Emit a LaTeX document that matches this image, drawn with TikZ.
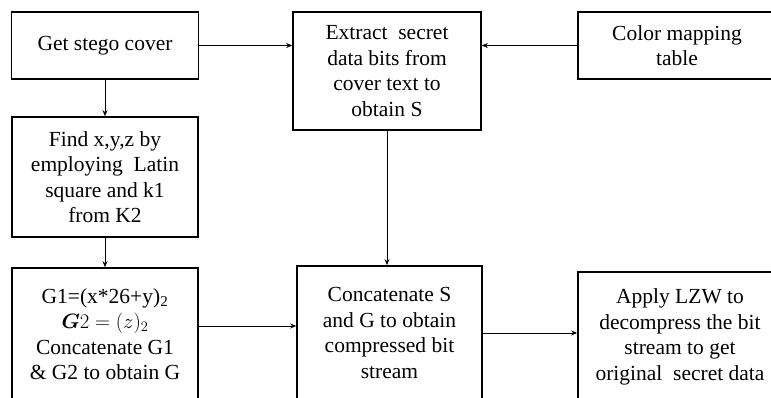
\documentclass[tikz,border=0pt]{standalone}
\usepackage{amsmath}
\usepackage{fontspec}
\setmainfont{Liberation Serif}
\usetikzlibrary{arrows.meta}
\begin{document}
\begin{tikzpicture}[x=1pt,y=-1pt,font=\fontsize{21.5}{25.5}\selectfont,align=center,
  blk/.style={draw,line width=1.7pt,inner sep=0pt},
  arr/.style={-{Stealth[length=6pt,width=5pt]},line width=0.7pt}]
  \clip (0,0) rectangle (771,398);
  % left column
  \node[blk,minimum width=187,minimum height=67] (stego) at (105,45.5){Get stego cover};
  \node[blk,minimum width=186,minimum height=120] (findxyz) at (105,177){Find x,y,z by\\employing\ \ Latin\\square and k1\\from K2};
  \node[blk,minimum width=186,minimum height=132] (gvalue) at (105,334){G1=(x*26+y)\textsubscript{2}\\$\boldsymbol{G}2=(z)_{2}$\\Concatenate G1\\\& G2 to obtain G};
  % middle column
  \node[blk,minimum width=188,minimum height=118] (extract) at (387,71){Extract\ \ secret\\data bits from\\cover text to\\obtain S};
  \node[blk,minimum width=185,minimum height=134] (concat) at (389.5,333){Concatenate S\\and G to obtain\\compressed bit\\stream};
  % right column
  \node[blk,minimum width=198,minimum height=67] (colortab) at (677,45.5){Color mapping\\table};
  \node[blk,minimum width=204,minimum height=130] (lzw) at (680,337){Apply LZW to\\decompress the bit\\stream to get\\original\ \ secret data};
  % connectors
  \draw[arr] (stego.east) -- (extract.west |- stego.east);
  \draw[arr] (colortab.west) -- (extract.east |- colortab.west);
  \draw[arr] (stego.south) -- (findxyz.north);
  \draw[arr] (findxyz.south) -- (gvalue.north);
  \draw[arr] (extract.south) -- (extract.south |- concat.north);
  \draw[arr] ([yshift=8pt]gvalue.east) -- ([yshift=7pt]concat.west);
  \draw[arr] (concat.east) -- (lzw.west |- concat.east);
\end{tikzpicture}
\end{document}
